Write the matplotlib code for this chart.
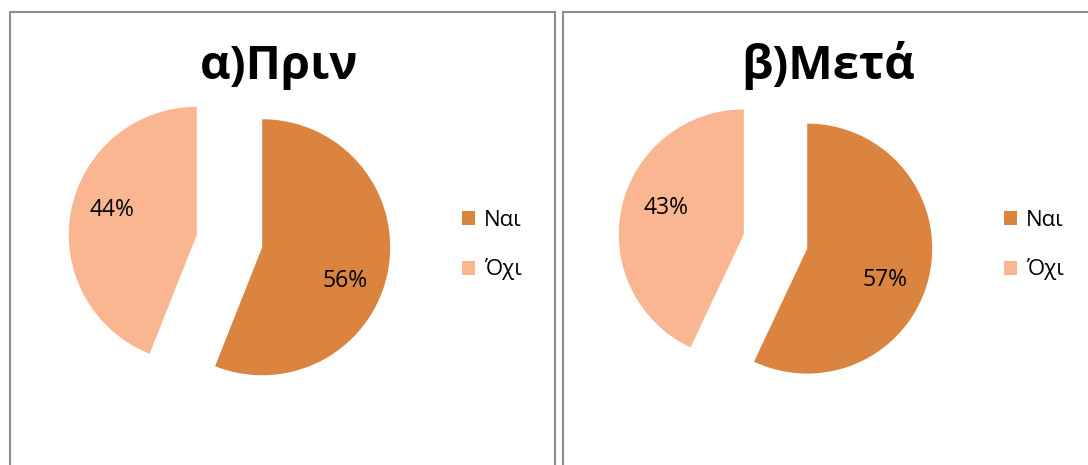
import matplotlib
matplotlib.use("Agg")
import matplotlib.pyplot as plt
from matplotlib.patches import Rectangle

plt.rcParams['font.family'] = ['Open Sans', 'DejaVu Sans']

labels = ["Ναι", "Όχι"]
before = [56, 44]
after = [57, 43]
titles = ["α)Πριν", "β)Μετά"]
colors = ["#DB8440", "#F9B690"]

W, H = 1088, 465
fig = plt.figure(figsize=(W / 100, H / 100), dpi=100)

# panel borders (pixel coords -> figure fraction)
def px_rect(x0, y0, x1, y1):
    return Rectangle((x0 / W, 1 - y1 / H), (x1 - x0) / W, (y1 - y0) / H,
                     transform=fig.transFigure, fill=False,
                     edgecolor="#8c8c8c", linewidth=1.5, clip_on=False)

fig.patches.append(px_rect(10, 12, 555, 480))
fig.patches.append(px_rect(563, 12, 1100, 480))

# pie centre (px), radius (px), title centre x, legend x, label positions
panels = [
    dict(vals=before, cx=229.5, cy=241, r=128, tx=279, lx=451,
         pos=[(0.90, -0.31), (-0.92, 0.24)]),
    dict(vals=after, cx=775.5, cy=241.5, r=125, tx=828, lx=993,
         pos=[(0.88, -0.31), (-0.88, 0.27)]),
]

for p, title in zip(panels, titles):
    half = 160
    ax = fig.add_axes([(p["cx"] - half) / W, 1 - (p["cy"] + half) / H,
                       2 * half / W, 2 * half / H])
    wedges, texts, autotexts = ax.pie(
        p["vals"], colors=colors, startangle=90, counterclock=False,
        explode=[0.26, 0.26], autopct="%d%%", pctdistance=0.7,
        textprops=dict(fontsize=16.5, color="black"))
    lim = half / p["r"]
    ax.set_xlim(-lim, lim)
    ax.set_ylim(-lim, lim)
    for t, xy in zip(autotexts, p["pos"]):
        t.set_position(xy)
        t.set_ha("center")
        t.set_va("center")
    fig.text(p["tx"] / W, 1 - 66 / H, title, fontsize=34, fontweight="bold",
             ha="center", va="center")
    leg = fig.legend(wedges, labels, loc="center left",
                     bbox_to_anchor=(p["lx"] / W, 1 - 245 / H),
                     frameon=False, fontsize=16, handlelength=0.6,
                     handleheight=0.6, handletextpad=0.4, labelspacing=1.25,
                     borderpad=0)

fig.savefig("out.png", dpi=100, facecolor="white")
